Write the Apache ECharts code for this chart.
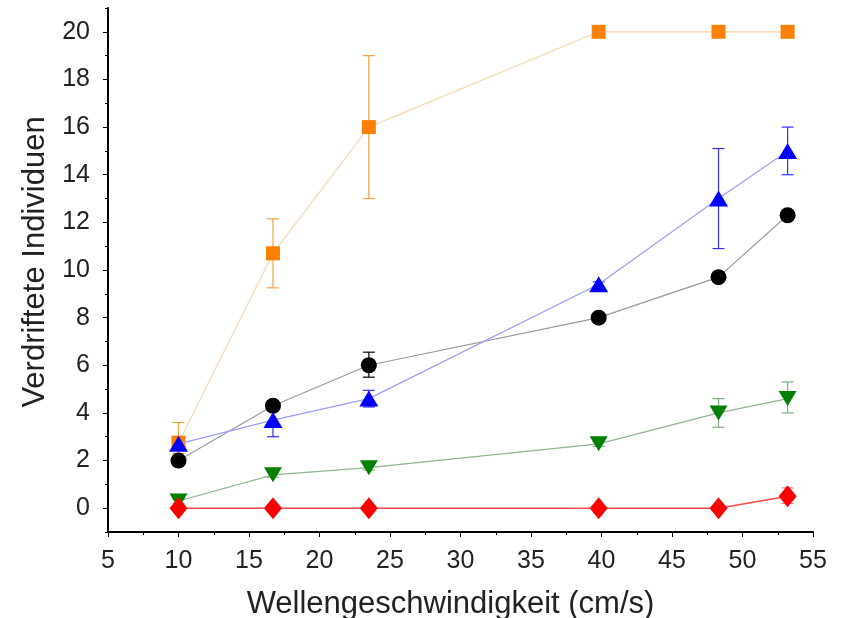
<!DOCTYPE html>
<html>
<head>
<meta charset="utf-8">
<script src="https://cdn.jsdelivr.net/npm/echarts@6/dist/echarts.min.js"></script>
<style>html,body{margin:0;padding:0;background:#fff}#c{width:843px;height:618px}</style>
</head>
<body>
<div id="c"></div>
<script>
var xVals = [10, 16.7, 23.5, 39.8, 48.3, 53.2];
var orange = [2.75, 10.7, 16, 20, 20, 20];
var orangeLow = [2.3, 9.25, 13, 20, 20, 20];
var orangeHigh = [3.6, 12.15, 19, 20, 20, 20];
var blue = [2.7, 3.7, 4.6, 9.4, 13.0, 15.0];
var blueLow = [2.5, 3.0, 4.25, 9.3, 10.9, 14.0];
var blueHigh = [2.9, 4.4, 4.95, 9.5, 15.1, 16.0];
var black = [2.0, 4.3, 6.0, 8.0, 9.7, 12.3];
var blackLow = [1.9, 4.1, 5.5, 7.9, 9.6, 12.2];
var blackHigh = [2.1, 4.5, 6.55, 8.1, 9.8, 12.4];
var green = [0.3, 1.4, 1.7, 2.7, 4.0, 4.6];
var greenLow = [0.2, 1.3, 1.6, 2.6, 3.4, 4.0];
var greenHigh = [0.4, 1.5, 1.8, 2.8, 4.6, 5.3];
var red = [0, 0, 0, 0, 0, 0.5];
var redLow = [0, 0, 0, 0, 0, 0.2];
var redHigh = [0, 0, 0, 0, 0, 0.85];
var yTickLabels = [0, 2, 4, 6, 8, 10, 12, 14, 16, 18, 20];
var yMinorTicks = [-1, 1, 3, 5, 7, 9, 11, 13, 15, 17, 19, 21];

function pts(ys) { return xVals.map(function (x, i) { return [x, ys[i]]; }); }
function errs(lo, hi) { return xVals.map(function (x, i) { return [x, lo[i], hi[i]]; }); }

function errSeries(lo, hi, color, z) {
  return {
    type: 'custom',
    z: z,
    silent: true,
    data: errs(lo, hi),
    encode: { x: 0, y: [1, 2] },
    renderItem: function (params, api) {
      var x = api.value(0);
      var p1 = api.coord([x, api.value(1)]);
      var p2 = api.coord([x, api.value(2)]);
      if (Math.abs(p1[1] - p2[1]) < 1) return null;
      var w = 6;
      var st = { stroke: color, lineWidth: 1.2 };
      return {
        type: 'group',
        children: [
          { type: 'line', shape: { x1: p1[0], y1: p1[1], x2: p2[0], y2: p2[1] }, style: st },
          { type: 'line', shape: { x1: p1[0] - w, y1: p1[1], x2: p1[0] + w, y2: p1[1] }, style: st },
          { type: 'line', shape: { x1: p2[0] - w, y1: p2[1], x2: p2[0] + w, y2: p2[1] }, style: st }
        ]
      };
    }
  };
}

function lineSeries(name, ys, symbol, size, color, lineColor, z, rotate, lw) {
  return {
    name: name,
    type: 'line',
    data: pts(ys),
    symbol: symbol,
    symbolSize: size,
    symbolRotate: rotate || 0,
    showAllSymbol: true,
    z: z,
    itemStyle: { color: color, opacity: 1 },
    lineStyle: { color: lineColor, width: lw || 1.2 },
    emphasis: { disabled: true }
  };
}

var chart = echarts.init(document.getElementById('c'), null, { renderer: 'canvas' });
chart.setOption({
  animation: false,
  backgroundColor: '#ffffff',
  textStyle: { fontFamily: 'Liberation Sans, Arial, sans-serif' },
  grid: { left: 108, right: 30, top: 8, bottom: 86, containLabel: false, outerBoundsMode: 'none' },
  xAxis: {
    type: 'value',
    min: 5, max: 55, interval: 5,
    name: 'Wellengeschwindigkeit (cm/s)',
    nameLocation: 'middle',
    nameGap: 57,
    nameTextStyle: { fontSize: 31, color: '#222', padding: [0, 20, 0, 0] },
    axisLine: { show: true, onZero: false, lineStyle: { color: '#000', width: 2 } },
    axisTick: { show: true, inside: false, length: 5, lineStyle: { color: '#000', width: 1 } },
    minorTick: { show: true, splitNumber: 2, length: 3, lineStyle: { color: '#000', width: 1 } },
    axisLabel: { fontSize: 25, color: '#222', margin: 17 },
    splitLine: { show: false }
  },
  yAxis: [{
    type: 'value',
    min: -1, max: 21,
    name: 'Verdriftete Individuen',
    nameLocation: 'middle',
    nameGap: 49,
    nameTextStyle: { fontSize: 31, color: '#222', padding: [0, 0, 0, 16] },
    axisLine: { show: true, onZero: false, lineStyle: { color: '#000', width: 2 } },
    axisTick: { show: true, inside: false, length: 5, customValues: yTickLabels, lineStyle: { color: '#000', width: 1 } },
    axisLabel: { fontSize: 25, color: '#222', margin: 18, customValues: yTickLabels },
    splitLine: { show: false }
  }, {
    type: 'value',
    min: -1, max: 21,
    position: 'left',
    axisLine: { show: false },
    axisTick: { show: true, inside: false, length: 3, customValues: yMinorTicks, lineStyle: { color: '#000', width: 1 } },
    axisLabel: { show: false },
    splitLine: { show: false }
  }],
  series: [
    errSeries(orangeLow, orangeHigh, '#f7a040', 2),
    errSeries(blackLow, blackHigh, '#000000', 2),
    errSeries(greenLow, greenHigh, '#80b080', 2),
    errSeries(redLow, redHigh, '#ff8080', 2),
    errSeries(blueLow, blueHigh, '#3030ff', 2),
    lineSeries('orange', orange, 'rect', 14, '#ff7f00', '#f9d6ac', 3),
    lineSeries('black', black, 'circle', 16, '#000000', '#9a9a9a', 4),
    lineSeries('green', green, 'triangle', [18, 15], '#008000', '#8fb48f', 5, 180),
    lineSeries('blue', blue, 'triangle', [19, 16], '#0000ff', '#9c9cf8', 6),
    lineSeries('red', red, 'diamond', [18, 22], '#ff0000', '#ff4a4a', 7, 0, 1.5)
  ]
});
</script>
</body>
</html>
